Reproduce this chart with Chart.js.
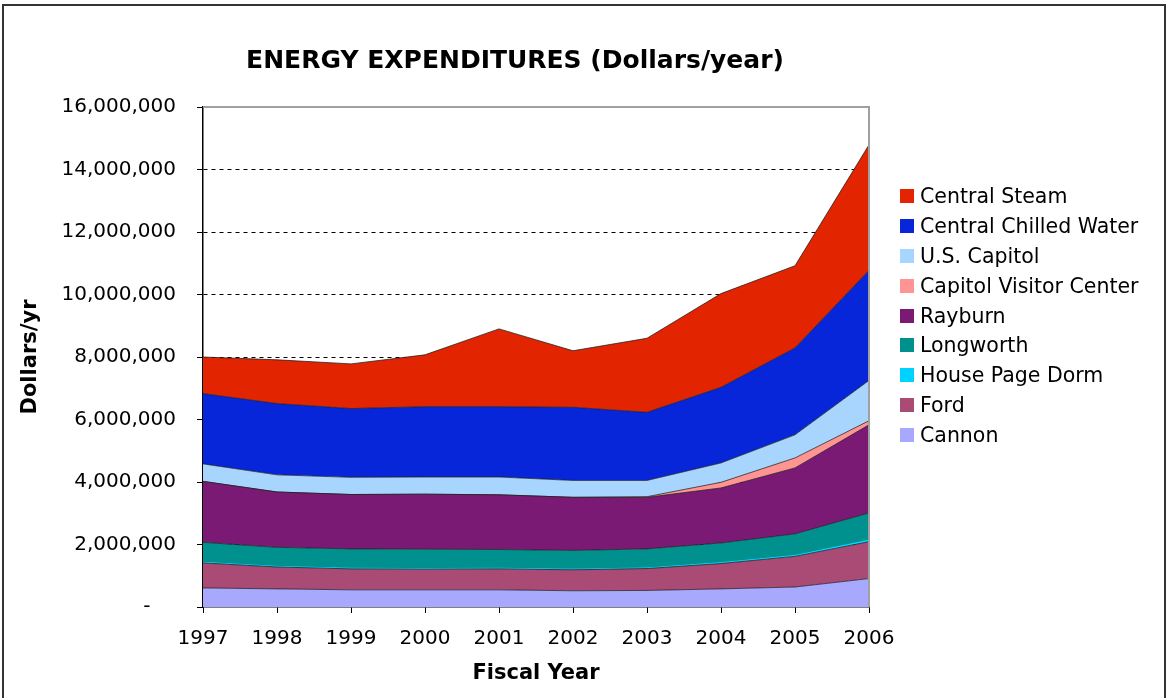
<!DOCTYPE html>
<html>
<head>
<meta charset="utf-8">
<script src="https://cdn.jsdelivr.net/npm/chart.js@4/dist/chart.umd.min.js"></script>
<style>
  html,body{margin:0;padding:0;background:#fff;}
  #wrap{position:relative;width:1172px;height:698px;overflow:hidden;font-family:"DejaVu Sans",Verdana,sans-serif;}
  #frame{position:absolute;left:2px;top:4px;width:1164px;height:700px;border:2px solid #333;box-sizing:border-box;}
  #ctitle{position:absolute;left:0;width:1030px;top:45px;text-align:center;font-weight:bold;font-size:25px;color:#000;}
  #legend{position:absolute;left:900px;top:181px;}
  .li{display:flex;align-items:center;height:29.9px;font-size:20.5px;color:#000;white-space:nowrap;}
  .sq{width:14px;height:14px;margin-right:6px;flex-shrink:0;}
  canvas{position:absolute;left:0;top:0;}
</style>
</head>
<body>
<div id="wrap">
  <canvas id="c" width="1172" height="698"></canvas>
  <div id="frame"></div>
  <div id="ctitle">ENERGY EXPENDITURES (Dollars/year)</div>
  <div id="legend"></div>
</div>
<script>
/* ─── DATA ─────────────────────────────── */
const YEARS     = ['1997','1998','1999','2000','2001','2002','2003','2004','2005','2006'];
const cannon    = [610000,580000,550000,550000,550000,520000,530000,580000,640000,910000];
const ford      = [800000,700000,670000,660000,670000,670000,700000,810000,980000,1180000];
const pageDorm  = [20000,20000,20000,20000,20000,20000,20000,30000,30000,50000];
const longworth = [640000,610000,620000,620000,600000,600000,610000,630000,690000,870000];
const rayburn   = [1950000,1770000,1740000,1760000,1750000,1700000,1650000,1760000,2110000,2820000];
const visitorCtr= [0,0,0,0,0,0,20000,180000,320000,130000];
const capitol   = [560000,550000,550000,550000,570000,540000,520000,620000,740000,1290000];
const chilled   = [2250000,2280000,2200000,2250000,2250000,2340000,2180000,2420000,2780000,3520000];
const steam     = [1170000,1400000,1430000,1660000,2490000,1810000,2370000,3000000,2630000,4020000];
const Y_TICKS   = [0,2000000,4000000,6000000,8000000,10000000,12000000,14000000,16000000];

/* bottom → top */
const SERIES = [
  {label:'Cannon',                 data:cannon,     color:'#A8A8FE'},
  {label:'Ford',                   data:ford,       color:'#A94B75'},
  {label:'House Page Dorm',        data:pageDorm,   color:'#00D2FF'},
  {label:'Longworth',              data:longworth,  color:'#00918F'},
  {label:'Rayburn',                data:rayburn,    color:'#7A1A74'},
  {label:'Capitol Visitor Center', data:visitorCtr, color:'#FF9593'},
  {label:'U.S. Capitol',           data:capitol,    color:'#A8D5FD'},
  {label:'Central Chilled Water',  data:chilled,    color:'#0726D9'},
  {label:'Central Steam',          data:steam,      color:'#E32400'}
];

/* ─── LEGEND ───────────────────────────── */
document.getElementById('legend').innerHTML = SERIES.slice().reverse().map(s=>`
  <div class="li"><span class="sq" style="background:${s.color}"></span>${s.label}</div>`).join('');

/* ─── PLOT FRAME (gray top/right) ──────── */
const plotFrame = {
  id:'plotFrame',
  afterDatasetsDraw(chart){
    const {ctx, chartArea:a} = chart;
    ctx.save();
    ctx.strokeStyle = '#A0A0A0'; ctx.lineWidth = 2;
    ctx.beginPath();
    ctx.moveTo(a.left, a.top); ctx.lineTo(a.right, a.top); ctx.lineTo(a.right, a.bottom);
    ctx.stroke();
    ctx.restore();
  }
};

const FONT = 'DejaVu Sans';

new Chart(document.getElementById('c').getContext('2d'), {
  type:'line',
  data:{
    labels:YEARS,
    datasets:SERIES.map((s,i)=>({
      label:s.label, data:s.data,
      backgroundColor:s.color,
      borderColor: s.label==='House Page Dorm' ? s.color : 'rgba(30,30,30,0.75)',
      borderWidth:1,
      fill: i===0 ? 'origin' : '-1',
      pointRadius:0, tension:0
    }))
  },
  options:{
    responsive:false, animation:false,
    layout:{padding:{left:14, right:303, top:107, bottom:8}},
    plugins:{legend:{display:false}, tooltip:{enabled:false}},
    scales:{
      x:{
        offset:false,
        grid:{drawOnChartArea:false, drawTicks:true, tickLength:6, tickColor:'#000'},
        border:{color:'#000', width:1.5},
        ticks:{color:'#000', font:{family:FONT, size:20}, padding:14, maxRotation:0},
        title:{display:true, text:'Fiscal Year', color:'#000', font:{family:FONT, size:21, weight:'bold'}, padding:{top:4,bottom:4}},
        afterFit: s=>{ s.height = 698 - 8 - 607; }
      },
      y:{
        stacked:true, min:0, max:16000000,
        afterBuildTicks: s=>{ s.ticks = Y_TICKS.map(v=>({value:v})); },
        grid:{
          color: c=> (c.tick && (c.tick.value===0 || c.tick.value===16000000)) ? 'rgba(0,0,0,0)' : '#000',
          lineWidth:1, drawTicks:true, tickLength:6, tickColor:'#000'
        },
        border:{color:'#000', width:1.5, dash:[4,4]},
        ticks:{
          color:'#000', font:{family:FONT, size:20}, padding:21,
          callback: v=> v===0 ? '-    ' : v.toLocaleString('en-US')
        },
        title:{display:true, text:'Dollars/yr', color:'#000', font:{family:FONT, size:21, weight:'bold'}, padding:{top:4,bottom:4}},
        afterFit: s=>{ s.width = 203 - 14; }
      }
    }
  },
  plugins:[plotFrame]
});
</script>
</body>
</html>
